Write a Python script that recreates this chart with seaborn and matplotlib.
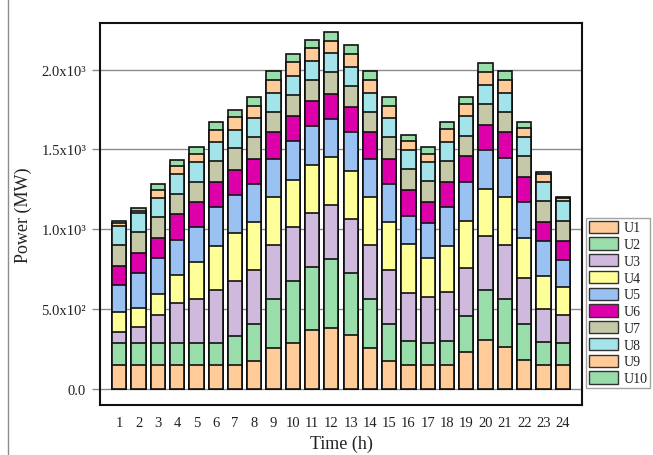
import numpy as np
import pandas as pd
import matplotlib
matplotlib.use("Agg")
import matplotlib.pyplot as plt
from matplotlib.patches import Patch
from matplotlib.lines import Line2D
import seaborn as sns

# Hourly dispatch of ten generating units (MW)
hours = [str(h) for h in range(1, 25)]
units = ["U1", "U2", "U3", "U4", "U5", "U6", "U7", "U8", "U9", "U10"]

U1 = [147, 147, 147, 147, 147, 147, 149, 175, 253, 288, 367, 378,
      336, 253, 175, 147, 147, 147, 229, 306, 262, 180, 147, 147]
U2 = [136, 136, 136, 136, 136, 136, 182, 230, 308, 384, 393, 434,
      387, 308, 230, 153, 136, 149, 226, 310, 299, 223, 143, 136]
U3 = [71, 101, 176, 251, 278, 335, 341, 336, 341, 339, 343, 338,
      340, 341, 336, 297, 289, 307, 300, 339, 341, 290, 209, 176]
U4 = [124, 119, 134, 178, 231, 278, 301, 302, 297, 299, 299, 300,
      299, 297, 302, 310, 245, 293, 298, 297, 301, 251, 205, 176]
U5 = [171, 222, 224, 222, 223, 241, 241, 242, 241, 241, 243, 241,
      245, 241, 242, 177, 219, 241, 241, 244, 241, 224, 219, 171]
U6 = [121, 123, 125, 159, 153, 161, 159, 157, 167, 161, 161, 157,
      157, 167, 157, 163, 132, 161, 163, 159, 163, 161, 124, 117]
U7 = [130, 132, 132, 129, 130, 127, 134, 134, 126, 129, 129, 136,
      132, 126, 134, 130, 132, 131, 129, 130, 126, 128, 127, 130]
U8 = [121, 119, 119, 122, 121, 123, 117, 122, 119, 121, 118, 121,
      119, 119, 122, 119, 119, 119, 122, 121, 121, 123, 120, 121]
U9 = [17, 16, 52, 50, 52, 76, 79, 76, 83, 84, 83, 77,
      83, 83, 76, 55, 52, 80, 77, 82, 81, 52, 52, 19]
U10 = [15, 15, 38, 42, 46, 46, 44, 53, 55, 52, 52, 56,
       57, 55, 53, 41, 42, 42, 46, 56, 55, 42, 14, 10]

colors = ["#FFCC99", "#99DDAA", "#CFB9DC", "#FFFF99", "#99C2F2",
          "#DD00AA", "#C6C9A8", "#A3E4EA", "#FFCC99", "#99DDAA"]

df = pd.DataFrame({"hour": hours, "U1": U1, "U2": U2, "U3": U3, "U4": U4,
                   "U5": U5, "U6": U6, "U7": U7, "U8": U8, "U9": U9,
                   "U10": U10})
cum = df[units].cumsum(axis=1)

serif = ["Liberation Serif", "DejaVu Serif"]
sns.set_theme(style="white")
plt.rcParams["font.family"] = serif

fig = plt.figure(figsize=(6.53, 4.56), dpi=100)
ax = fig.add_axes([100 / 653, 1 - 406 / 456, 482 / 653, 382 / 456])

ax.set_axisbelow(True)
ax.yaxis.grid(True, color="#8c8c8c", linewidth=1.0)
ax.xaxis.grid(False)

# Stack by drawing cumulative totals from the top unit downwards
for i in range(len(units) - 1, -1, -1):
    plot_df = pd.DataFrame({"hour": hours, "total": cum[units[i]].values})
    sns.barplot(data=plot_df, x="hour", y="total", color=colors[i],
                saturation=1, width=0.74, edgecolor="#111111",
                linewidth=1.2, ax=ax, errorbar=None)

ax.set_xlim(-1.0, 24.0)
ax.set_ylim(-103, 2293)
yticks = [0, 500, 1000, 1500, 2000]
ax.set_yticks(yticks)
ax.set_yticklabels(["0.0", "5.0x10²", "1.0x10³", "1.5x10³", "2.0x10³"])
ax.tick_params(axis="y", which="both", left=True, length=6, width=1,
               color="#8c8c8c", labelsize=10.5, labelcolor="#222222", pad=4)
ax.tick_params(axis="x", length=0, labelsize=10.5, labelcolor="#222222",
               pad=8)

for s in ax.spines.values():
    s.set_color("#111111")
    s.set_linewidth(1.5)

ax.set_xlabel("Time (h)", fontsize=13, color="#222222", labelpad=4)
ax.set_ylabel("Power (MW)", fontsize=13, color="#222222", labelpad=7)

handles = [Patch(facecolor=c, edgecolor="#333333", linewidth=1.0)
           for c in colors]
leg = fig.legend(handles, units, loc="lower left",
                 bbox_to_anchor=(586 / 653, 1 - 389 / 456),
                 frameon=True, fancybox=False, fontsize=10,
                 handlelength=2.1, handleheight=1.0, labelspacing=0.2,
                 handletextpad=0.4, borderpad=0.2, borderaxespad=0)
leg.get_frame().set_edgecolor("#8c8c8c")
leg.get_frame().set_linewidth(1.0)
for t in leg.get_texts():
    t.set_color("#222222")

fig.add_artist(Line2D([8 / 653, 8 / 653], [0, 1], color="#8c8c8c",
                      linewidth=1.0, transform=fig.transFigure))

fig.savefig("out.png", dpi=100)
